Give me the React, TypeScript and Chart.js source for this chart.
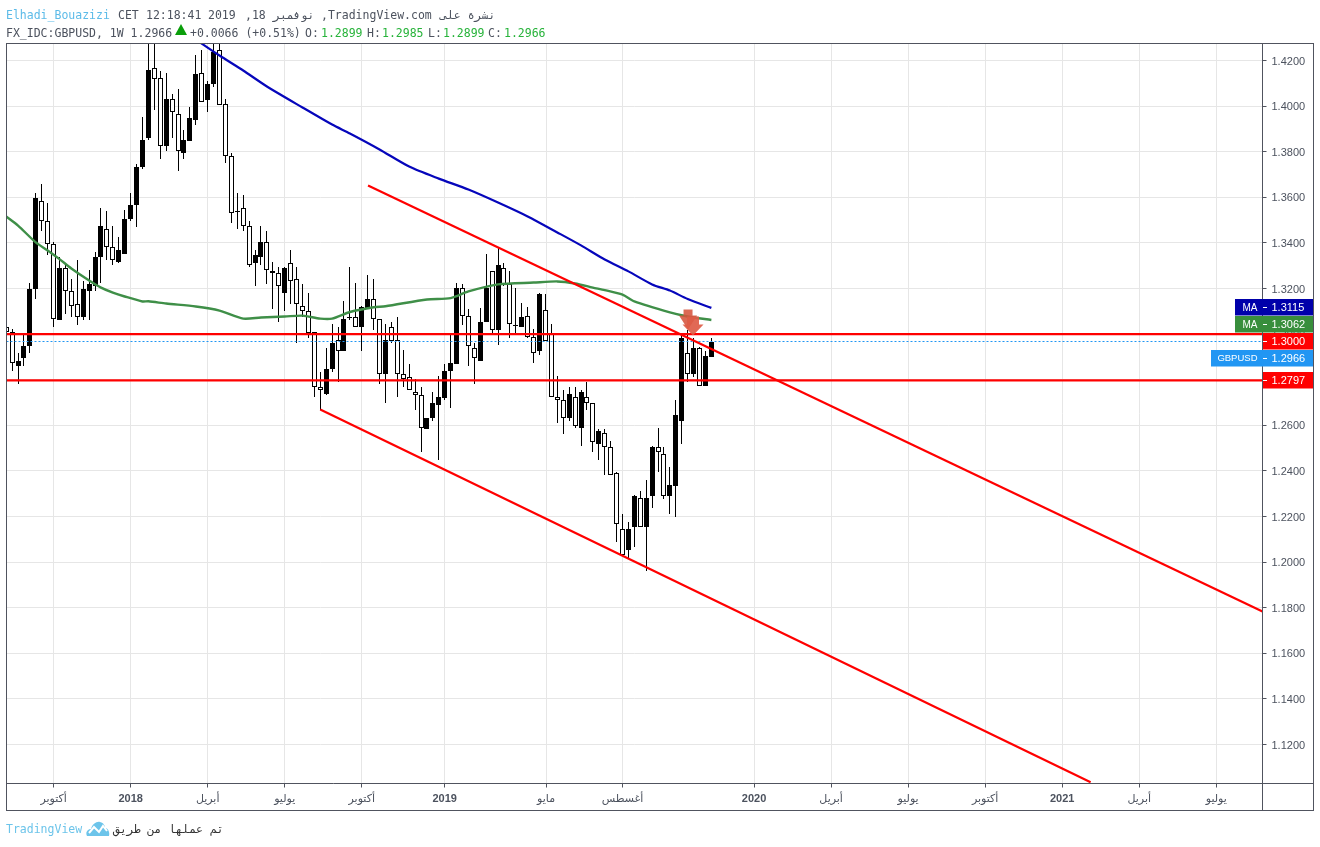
import React, { useEffect, useRef } from "react";
import { Chart, registerables } from "chart.js";

Chart.register(...registerables);

const opens = [
  1.3033,1.3011,1.2862,1.2897,1.2946,1.3196,1.3582,1.3494,1.3397,1.3064,
  1.3288,1.3191,1.3130,1.3073,1.3187,1.3213,1.3336,1.3463,1.3384,1.3318,
  1.3353,1.3507,1.3568,1.3731,1.3858,1.4165,1.4125,1.3823,1.4029,1.3967,
  1.3796,1.3845,1.3941,1.4143,1.4025,1.4095,1.4248,1.4011,1.3779,1.3536,
  1.3551,1.3476,1.3310,1.3340,1.3406,1.3275,1.3270,1.3182,1.3310,1.3240,
  1.3125,1.3103,1.3011,1.2766,1.2739,1.2849,1.2972,1.2928,1.3071,1.3073,
  1.3029,1.3112,1.3156,1.3068,1.2827,1.3033,1.2972,1.2827,1.2814,1.2748,
  1.2735,1.2582,1.2630,1.2687,1.2718,1.2836,1.2871,1.3204,1.3081,1.2941,
  1.2884,1.3051,1.3275,1.3016,1.3292,1.3218,1.3040,1.3029,1.3081,1.2989,
  1.2924,1.3104,1.3003,1.2722,1.2713,1.2630,1.2726,1.2590,1.2722,1.2700,
  1.2516,1.2568,1.2507,1.2389,1.2147,1.2051,1.2152,1.2279,1.2156,1.2288,
  1.2503,1.2476,1.2288,1.2332,1.2621,1.2915,1.2823,1.2941,1.2774,1.2899,
];
const highs = [
  1.3033,1.3024,1.2919,1.2998,1.3226,1.3621,1.3660,1.3577,1.3406,1.3340,
  1.3314,1.3240,1.3327,1.3235,1.3283,1.3362,1.3555,1.3542,1.3472,1.3424,
  1.3546,1.3617,1.3748,1.3950,1.4301,1.4305,1.4156,1.4147,1.4055,1.4073,
  1.3893,1.3998,1.4222,1.4248,1.4108,1.4300,1.4292,1.4033,1.3796,1.3621,
  1.3612,1.3494,1.3367,1.3476,1.3450,1.3318,1.3296,1.3296,1.3367,1.3296,
  1.3218,1.3182,1.3011,1.2832,1.2941,1.3046,1.3033,1.3147,1.3296,1.3222,
  1.3125,1.3261,1.3240,1.3068,1.3046,1.3055,1.3077,1.2932,1.2867,1.2801,
  1.2766,1.2634,1.2744,1.2818,1.2871,1.3007,1.3222,1.3218,1.3112,1.2963,
  1.3116,1.3353,1.3275,1.3384,1.3314,1.3275,1.3200,1.3138,1.3121,1.3024,
  1.3182,1.3174,1.3046,1.2818,1.2757,1.2766,1.2766,1.2753,1.2788,1.2700,
  1.2582,1.2582,1.2529,1.2393,1.2213,1.2178,1.2296,1.2314,1.2358,1.2511,
  1.2586,1.2507,1.2415,1.2713,1.3007,1.3016,1.2981,1.2945,1.2924,1.2985,
];
const lows = [
  1.2998,1.2836,1.2779,1.2858,1.2915,1.3156,1.3454,1.3349,1.3029,1.3060,
  1.3089,1.3077,1.3042,1.3064,1.3064,1.3191,1.3226,1.3323,1.3305,1.3314,
  1.3353,1.3498,1.3468,1.3722,1.3853,1.3985,1.3770,1.3801,1.3862,1.3717,
  1.3770,1.3845,1.3915,1.4016,1.3972,1.4082,1.4003,1.3752,1.3489,1.3463,
  1.3454,1.3296,1.3209,1.3301,1.3218,1.3112,1.3055,1.3103,1.3134,1.2963,
  1.3077,1.2985,1.2726,1.2669,1.2735,1.2832,1.2792,1.2928,1.3060,1.3029,
  1.2928,1.3112,1.3016,1.2779,1.2700,1.2963,1.2726,1.2770,1.2753,1.2665,
  1.2481,1.2582,1.2621,1.2446,1.2713,1.2674,1.2871,1.3042,1.2858,1.2779,
  1.2884,1.3051,1.2994,1.2954,1.3209,1.2985,1.2998,1.3029,1.2985,1.2875,
  1.2910,1.2968,1.2722,1.2608,1.2564,1.2617,1.2586,1.2511,1.2665,1.2485,
  1.2446,1.2384,1.2384,1.2086,1.2033,1.2020,1.2068,1.2156,1.1963,1.2239,
  1.2397,1.2275,1.2209,1.2200,1.2520,1.2792,1.2814,1.2774,1.2774,1.2899,
];
const closes = [
  1.3011,1.2875,1.2880,1.2950,1.3196,1.3595,1.3498,1.3397,1.3068,1.3288,
  1.3191,1.3125,1.3077,1.3196,1.3218,1.3336,1.3472,1.3384,1.3323,1.3367,
  1.3507,1.3568,1.3731,1.3853,1.4160,1.4117,1.3823,1.4033,1.3972,1.3801,
  1.3853,1.3946,1.4139,1.4016,1.4095,1.4239,1.4003,1.3779,1.3529,1.3540,
  1.3472,1.3305,1.3349,1.3406,1.3279,1.3266,1.3209,1.3288,1.3235,1.3134,
  1.3103,1.3003,1.2770,1.2757,1.2845,1.2959,1.2924,1.3068,1.3075,1.3029,
  1.3121,1.3156,1.3068,1.2827,1.2972,1.2968,1.2827,1.2805,1.2753,1.2731,
  1.2586,1.2634,1.2700,1.2726,1.2840,1.2875,1.3200,1.3081,1.2950,1.2893,
  1.3051,1.3200,1.3016,1.3301,1.3218,1.3046,1.3036,1.3077,1.2989,1.2919,
  1.3178,1.2968,1.2722,1.2713,1.2630,1.2739,1.2595,1.2744,1.2700,1.2525,
  1.2577,1.2503,1.2384,1.2165,1.2033,1.2147,1.2288,1.2156,1.2283,1.2507,
  1.2481,1.2288,1.2336,1.2647,1.2985,1.2827,1.2941,1.2774,1.2906,1.2966,
];

const greenMaBars = [0,2,5,7,9,11,14,16,18,20,23,24,27,32,36,40,43,47,50,53,55,58,62,64,71,75,78,83,89,93,96,99,101,104,106,112,115,119];
const greenMaValues = [1.3516,1.3476,1.3402,1.3367,1.3329,1.3288,1.3235,1.3204,1.3182,1.3165,1.3143,1.3144,1.3134,1.3121,1.3103,1.3068,1.3073,1.3077,1.3081,1.3068,1.3068,1.3097,1.3118,1.3122,1.3152,1.3158,1.3187,1.3218,1.3226,1.3231,1.3222,1.3204,1.3193,1.3173,1.3143,1.3095,1.3077,1.3062];
const blueMaBars = [32,36,40,44,50,55,58,63,68,73,78,83,88,93,97,101,105,109,112,115,119];
const blueMaValues = [1.4292,1.4222,1.4156,1.4086,1.3994,1.3919,1.3880,1.3810,1.3735,1.3682,1.3634,1.3577,1.3516,1.3446,1.3389,1.3327,1.3275,1.3218,1.3191,1.3154,1.3115];

const upperChannelBars = [61.06, 212];
const upperChannelPrices = [1.3652, 1.1783];
const lowerChannelBars = [53, 183];
const lowerChannelPrices = [1.2669, 1.1034];
const supportLevels = [1.3, 1.2797];
const lastPrice = 1.2966;
const arrowBars = [115.06, 115.9];
const arrowPrices = [1.3020, 1.2994];

const xTickValues = [8,21,34,47,60,74,91.1,104,126.2,139.2,152.2,165.2,178.2,191.2,204.2];
const xTickLabels = ["أكتوبر","2018","أبريل","يوليو","أكتوبر","2019","مايو","أغسطس","2020","أبريل","يوليو","أكتوبر","2021","أبريل","يوليو"];
const yTickValues = [1.12,1.14,1.16,1.18,1.2,1.22,1.24,1.26,1.28,1.3,1.32,1.34,1.36,1.38,1.4,1.42];

const sideLabels = [
  { name: "MA", value: "1.3115", color: "#0000aa" },
  { name: "MA", value: "1.3062", color: "#388e3c" },
  { name: "", value: "1.3000", color: "#ff0000" },
  { name: "GBPUSD", value: "1.2966", color: "#2196f3" },
  { name: "", value: "1.2797", color: "#ff0000" },
];
const sideTops = [299, 316, 333, 350, 372];
const sideLefts = [1235, 1235, 1263, 1211, 1263];

const xMin = 0.054;
const xMax = 212;
const yMax = 1.427456;
const yMin = 1.102895;
const axisColor = "#50535e";
const textColor = "#4c525e";
const greenText = "#27b33a";
const monoFont = "'DejaVu Sans Mono', monospace";

const snapPlugin = {
  id: "snap",
  afterDatasetsUpdate(chart: any) {
    chart.data.datasets.forEach((ds: any, i: number) => {
      const meta = chart.getDatasetMeta(i);
      if (ds.snapWidth) {
        meta.data.forEach((el: any) => {
          el.x = Math.floor(el.x) + 0.5;
          el.y = Math.round(el.y);
          el.base = Math.round(el.base);
          el.width = ds.snapWidth;
        });
      }
      if (ds.snapLine) {
        meta.data.forEach((el: any) => {
          el.y = Math.floor(el.y) + 0.5;
        });
      }
    });
  },
  beforeDraw(chart: any) {
    chart.scales.y.getLabelItems().forEach((item: any) => {
      if (!item.options.shifted) {
        item.options.translation = [item.options.translation[0], item.options.translation[1] + 1];
        item.options.shifted = true;
      }
    });
  },
};

const decorPlugin = {
  id: "decor",
  afterDatasetsDraw(chart: any) {
    const { ctx, scales } = chart;
    const drawArrow = (tx: number, ty: number, shaftW: number, headW: number, headH: number, shaftH: number, color: string) => {
      ctx.beginPath();
      ctx.moveTo(tx, ty);
      ctx.lineTo(tx - headW, ty - headH);
      ctx.lineTo(tx - shaftW, ty - headH);
      ctx.lineTo(tx - shaftW, ty - headH - shaftH);
      ctx.lineTo(tx + shaftW, ty - headH - shaftH);
      ctx.lineTo(tx + shaftW, ty - headH);
      ctx.lineTo(tx + headW, ty - headH);
      ctx.closePath();
      ctx.fillStyle = color;
      ctx.fill();
    };
    ctx.save();
    drawArrow(scales.x.getPixelForValue(arrowBars[0]), scales.y.getPixelForValue(arrowPrices[0]), 4.5, 9, 14, 6, "rgba(214,84,62,0.88)");
    drawArrow(scales.x.getPixelForValue(arrowBars[1]), scales.y.getPixelForValue(arrowPrices[1]), 6, 10.5, 11, 8, "rgba(222,92,70,0.92)");
    ctx.restore();
  },
  afterDraw(chart: any) {
    const { ctx, chartArea: a } = chart;
    ctx.save();
    ctx.strokeStyle = axisColor;
    ctx.lineWidth = 1;
    const right = 1313.5;
    const bottom = 810.5;
    ctx.strokeRect(a.left, a.top, right - a.left, bottom - a.top);
    ctx.beginPath();
    ctx.moveTo(a.left, a.bottom);
    ctx.lineTo(right, a.bottom);
    ctx.moveTo(a.right, a.top);
    ctx.lineTo(a.right, bottom);
    ctx.stroke();

    ctx.textBaseline = "middle";
    sideLabels.forEach((lab, i) => {
      const top = sideTops[i];
      const h = 16.5;
      ctx.fillStyle = lab.color;
      ctx.fillRect(sideLefts[i], top, 1313 - sideLefts[i], h);
      ctx.fillStyle = "#ffffff";
      ctx.fillRect(1263, top + 8, 4, 1);
      ctx.font = "11px 'Liberation Sans', Arial, sans-serif";
      ctx.textAlign = "left";
      ctx.fillText(lab.value, 1271.5, top + h / 2 + 0.5);
      if (lab.name) {
        ctx.font = lab.name === "MA" ? "10px 'Liberation Sans', Arial, sans-serif" : "9.5px 'Liberation Sans', Arial, sans-serif";
        ctx.textAlign = "right";
        ctx.fillText(lab.name, 1257.5, top + h / 2 + 0.5);
      }
    });
    ctx.restore();
  },
};

const rows = opens.map((o, i) => ({ o, h: highs[i], l: lows[i], c: closes[i], x: i }));

function App() {
  const ref = useRef<HTMLCanvasElement | null>(null);
  useEffect(() => {
    const lineBase = { type: "line", pointRadius: 0, fill: false };
    const chart = new Chart(ref.current as any, {
      type: "bar",
      data: {
        datasets: [
          {
            label: "wicks",
            data: rows.map((r) => ({ x: r.x, y: [r.l, r.h] })),
            backgroundColor: "#000000",
            borderWidth: 0,
            grouped: false,
            order: 6,
            snapWidth: 1,
            inflateAmount: 0,
          },
          {
            label: "GBPUSD",
            data: rows.map((r) => ({ x: r.x, y: [Math.min(r.o, r.c), Math.max(r.o, r.c)] })),
            backgroundColor: rows.map((r) => (r.c > r.o ? "#000000" : "#ffffff")),
            borderColor: "#000000",
            borderWidth: 1,
            borderSkipped: false,
            grouped: false,
            order: 5,
            snapWidth: 5,
            inflateAmount: 0,
          },
          ...supportLevels.map((p) => ({
            ...lineBase,
            label: "level " + p,
            data: [{ x: xMin, y: p }, { x: xMax, y: p }],
            borderColor: "#ff0000",
            borderWidth: 2.4,
            order: 3,
          })),
          {
            ...lineBase,
            label: "last price",
            data: [{ x: xMin, y: lastPrice }, { x: xMax, y: lastPrice }],
            borderColor: "#2196f3",
            borderWidth: 1,
            borderDash: [2, 2],
            order: 4,
            snapLine: true,
          },
          {
            ...lineBase,
            label: "MA slow",
            data: blueMaBars.map((x, i) => ({ x, y: blueMaValues[i] })),
            borderColor: "#0606bb",
            borderWidth: 2.2,
            tension: 0.25,
            order: 2,
          },
          {
            ...lineBase,
            label: "MA fast",
            data: greenMaBars.map((x, i) => ({ x, y: greenMaValues[i] })),
            borderColor: "#3f8f48",
            borderWidth: 2.4,
            tension: 0.25,
            order: 2,
          },
          {
            ...lineBase,
            label: "upper channel",
            data: upperChannelBars.map((x, i) => ({ x, y: upperChannelPrices[i] })),
            borderColor: "#ff0000",
            borderWidth: 2.2,
            order: 1,
          },
          {
            ...lineBase,
            label: "lower channel",
            data: lowerChannelBars.map((x, i) => ({ x, y: lowerChannelPrices[i] })),
            borderColor: "#ff0000",
            borderWidth: 2.2,
            order: 1,
          },
        ] as any,
      },
      options: {
        responsive: false,
        animation: false,
        maintainAspectRatio: false,
        devicePixelRatio: 1,
        layout: { padding: { left: 6.5, top: 43.5, right: 6.5, bottom: 36.5 } },
        plugins: { legend: { display: false }, tooltip: { enabled: false } },
        scales: {
          x: {
            type: "linear",
            min: xMin,
            max: xMax,
            offset: false,
            border: { display: false },
            grid: { color: "#e6e6e6", tickColor: axisColor, tickLength: 4, offset: false, drawOnChartArea: true },
            afterBuildTicks: (scale: any) => {
              scale.ticks = xTickValues.map((value) => ({ value }));
            },
            afterFit: (scale: any) => {
              scale.height = 27;
            },
            ticks: {
              autoSkip: false,
              maxRotation: 0,
              minRotation: 0,
              padding: 5,
              color: textColor,
              callback: (_v: any, i: number) => xTickLabels[i],
              font: (ctx: any) =>
                /^\d/.test(xTickLabels[ctx.index] || "")
                  ? { family: "'Liberation Sans', Arial, sans-serif", size: 11, weight: "bold" }
                  : { family: "'DejaVu Sans', sans-serif", size: 11, weight: "normal" },
            },
          },
          y: {
            type: "linear",
            position: "right",
            min: yMin,
            max: yMax,
            border: { display: false },
            grid: { color: "#e6e6e6", tickColor: axisColor, tickLength: 4 },
            afterBuildTicks: (scale: any) => {
              scale.ticks = yTickValues.map((value) => ({ value }));
            },
            afterFit: (scale: any) => {
              scale.width = 51;
            },
            ticks: {
              autoSkip: false,
              padding: 5,
              color: textColor,
              font: { family: "'Liberation Sans', Arial, sans-serif", size: 11 },
              callback: (v: any) => Number(v).toFixed(4),
            },
          },
        },
      } as any,
      plugins: [snapPlugin, decorPlugin],
    } as any);
    return () => chart.destroy();
  }, []);

  const base: React.CSSProperties = {
    position: "absolute",
    fontFamily: monoFont,
    fontSize: "11.5px",
    lineHeight: "14px",
    whiteSpace: "pre",
    color: textColor,
  };
  const line1 = (left: number, text: string, extra?: React.CSSProperties) => (
    <div style={{ ...base, left, top: 8, ...extra }}>{text}</div>
  );
  const line2 = (left: number, text: string, green?: boolean) => (
    <div style={{ ...base, left, top: 26, color: green ? greenText : textColor }}>{text}</div>
  );

  return (
    <div style={{ position: "fixed", left: 0, top: 0, width: 1320, height: 847, background: "#ffffff", overflow: "hidden" }}>
      <canvas ref={ref} width={1320} height={847} style={{ display: "block", width: 1320, height: 847 }} />
      {line1(6, "Elhadi_Bouazizi", { color: "#5cbbe8" })}
      {line1(118, "CET")}
      {line1(146, "12:18:41")}
      {line1(208, "2019")}
      {line1(245, ",18")}
      {line1(273, "نوفمبر")}
      {line1(321, ",TradingView.com")}
      {line1(440, "نشرة على")}
      {line2(6, "FX_IDC:GBPUSD, 1W 1.2966")}
      <svg style={{ position: "absolute", left: 175, top: 24 }} width={12} height={11}>
        <polygon points="6,0 12,11 0,11" fill="#0a9e0a" />
      </svg>
      {line2(190, "+0.0066 (+0.51%)")}
      {line2(305, "O:")}
      {line2(321, "1.2899", true)}
      {line2(367, "H:")}
      {line2(382, "1.2985", true)}
      {line2(428, "L:")}
      {line2(443, "1.2899", true)}
      {line2(488, "C:")}
      {line2(504, "1.2966", true)}
      <div style={{ ...base, left: 6, top: 822, color: "#6cc4ea" }}>TradingView</div>
      <svg style={{ position: "absolute", left: 86, top: 821 }} width={24} height={16} viewBox="0 0 24 16">
        <path d="M1 15 C-1 11 2 8 5 8 C6 3 11 0 14 1 C18 2 19 5 19 7 C22 7 24 11 23 15 Z" fill="#6cc4ea" />
        <polyline points="3,12 8,6 13,11 17,5 21,10" fill="none" stroke="#ffffff" strokeWidth={2} />
      </svg>
      <div dir="rtl" style={{ ...base, left: 113, top: 822, color: "#333333" }}>تم عملها من طريق</div>
    </div>
  );
}

export default App;
